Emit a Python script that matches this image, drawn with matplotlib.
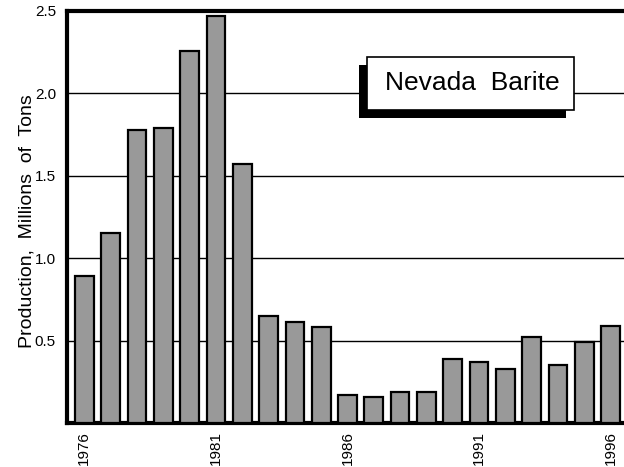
import numpy as np
import matplotlib.pyplot as plt
from matplotlib.patches import Rectangle

plt.rcParams['font.family'] = ['Liberation Sans', 'DejaVu Sans']

years = list(range(1976, 1997))
production = [0.89, 1.15, 1.78, 1.79, 2.26, 2.47, 1.57, 0.65, 0.61, 0.58,
              0.17, 0.16, 0.19, 0.19, 0.39, 0.37, 0.33, 0.52, 0.35, 0.49, 0.59]
ytick_vals = [0.5, 1.0, 1.5, 2.0, 2.5]
xtick_years = [1976, 1981, 1986, 1991, 1996]

W, H = 624, 467
fig = plt.figure(figsize=(W / 100, H / 100), dpi=100)
# axes box in pixels: left 67, top 11, bottom 423, right runs off the page
ax = fig.add_axes([67 / W, 1 - 423 / H, (628 - 67) / W, (423 - 11) / H])

x = np.arange(len(years))
ax.bar(x, production, width=0.71, color='#999999', edgecolor='black',
       linewidth=1.6, zorder=3)

for v in ytick_vals[:-1]:
    ax.axhline(v, color='black', linewidth=1.0, zorder=1)

ax.set_xlim(-0.66, len(years) - 0.34)
ax.set_ylim(0, 2.5)
ax.set_yticks(ytick_vals)
ax.set_yticklabels(['%.1f' % v for v in ytick_vals], fontsize=11)
ax.set_xticks([years.index(y) for y in xtick_years])
ax.set_xticklabels([str(y) for y in xtick_years], rotation=90, fontsize=11)
ax.tick_params(length=0, pad=8)
ax.tick_params(axis='x', pad=6)

for side in ['left', 'top', 'bottom']:
    ax.spines[side].set_linewidth(3)
ax.spines['right'].set_visible(False)

fig.text(27 / W, 1 - 221 / H, 'Production,  Millions  of  Tons', rotation=90,
         ha='center', va='center', fontsize=14)

# title box with drop shadow
def px_rect(x0, y0, x1, y1, **kw):
    return Rectangle((x0 / W, 1 - y1 / H), (x1 - x0) / W, (y1 - y0) / H,
                     transform=fig.transFigure, **kw)

fig.add_artist(px_rect(359, 65, 566, 118, facecolor='black', edgecolor='none', zorder=5))
fig.add_artist(px_rect(367, 57, 574, 110, facecolor='white', edgecolor='black',
                       linewidth=1.2, zorder=6))
fig.text(472.5 / W, 1 - 83.5 / H, 'Nevada  Barite', ha='center', va='center',
         fontsize=19, zorder=7)

fig.savefig('out.png', dpi=100)
